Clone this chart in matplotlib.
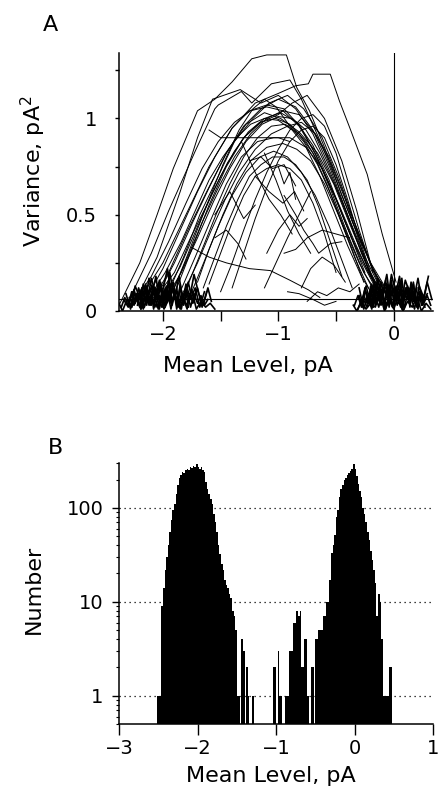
import numpy as np
import matplotlib
matplotlib.use("Agg")
import matplotlib.pyplot as plt

plt.rcParams['font.family'] = ['DejaVu Sans']

# ---- panel A: mean-variance trajectories (pA, pA^2) ----
high_x = [
    [-2.38, -2.2, -2.05, -1.91, -1.70, -1.55, -1.40, -1.23, -1.10, -0.93, -0.84, -0.73, -0.6, -0.45, -0.3, -0.15, -0.02],
    [-2.3, -2.1, -1.95, -1.72, -1.55, -1.52, -1.32, -1.23, -1.06, -0.9, -0.8, -0.65, -0.5, -0.35, -0.2, -0.05],
    [-2.2, -2.0, -1.8, -1.6, -1.4, -1.2, -1.0, -0.85, -0.74, -0.70, -0.55, -0.47, -0.38, -0.23, -0.1, 0.02],
    [-2.25, -2.05, -1.85, -1.7, -1.57, -1.33, -1.15, -1.0, -0.85, -0.7, -0.55, -0.4, -0.25, -0.1],
]
high_y = [
    [0.03, 0.25, 0.50, 0.74, 1.04, 1.10, 1.19, 1.31, 1.33, 1.33, 1.16, 1.04, 0.85, 0.6, 0.38, 0.18, 0.08],
    [0.05, 0.3, 0.52, 0.83, 1.05, 1.07, 1.14, 1.08, 1.18, 1.20, 1.10, 0.9, 0.68, 0.45, 0.25, 0.1],
    [0.06, 0.25, 0.5, 0.75, 0.95, 1.08, 1.13, 1.17, 1.18, 1.23, 1.23, 1.09, 0.95, 0.71, 0.4, 0.15],
    [0.04, 0.28, 0.62, 0.9, 1.10, 1.15, 1.08, 1.12, 1.05, 0.92, 0.72, 0.5, 0.28, 0.1],
]

bundle_x = [
    [-2.15, -2.0, -1.85, -1.7, -1.55, -1.4, -1.25, -1.1, -0.95, -0.8, -0.65, -0.5, -0.35, -0.2, -0.08],
    [-2.05, -1.9, -1.75, -1.6, -1.45, -1.3, -1.15, -1.0, -0.85, -0.7, -0.55, -0.4, -0.28, -0.15],
    [-1.95, -1.82, -1.68, -1.52, -1.38, -1.22, -1.08, -0.92, -0.78, -0.62, -0.48, -0.34, -0.2, -0.06],
    [-2.1, -1.95, -1.8, -1.62, -1.45, -1.28, -1.12, -0.98, -0.82, -0.66, -0.52, -0.38, -0.22, -0.1],
    [-1.88, -1.75, -1.6, -1.45, -1.3, -1.15, -1.0, -0.88, -0.75, -0.6, -0.45, -0.32, -0.18],
    [-2.0, -1.85, -1.72, -1.58, -1.44, -1.3, -1.16, -1.02, -0.9, -0.76, -0.62, -0.48, -0.34, -0.22, -0.1],
    [-1.85, -1.72, -1.58, -1.45, -1.32, -1.18, -1.04, -0.9, -0.76, -0.62, -0.5, -0.38, -0.25],
    [-1.78, -1.66, -1.54, -1.42, -1.3, -1.18, -1.06, -0.94, -0.82, -0.7, -0.58, -0.46, -0.34, -0.22],
    [-2.05, -1.9, -1.76, -1.62, -1.5, -1.38, -1.26, -1.12, -0.98, -0.84, -0.7, -0.56, -0.42, -0.28, -0.14],
    [-1.7, -1.6, -1.48, -1.36, -1.24, -1.1, -0.96, -0.84, -0.72, -0.6, -0.48, -0.36, -0.26],
    [-1.92, -1.8, -1.66, -1.52, -1.38, -1.24, -1.1, -0.96, -0.82, -0.68, -0.54, -0.42, -0.3, -0.18, -0.05],
    [-1.65, -1.55, -1.45, -1.35, -1.25, -1.15, -1.05, -0.95, -0.85, -0.75, -0.65, -0.55, -0.45],
    [-1.98, -1.84, -1.7, -1.56, -1.42, -1.28, -1.14, -1.0, -0.88, -0.76, -0.64, -0.5, -0.36, -0.22, -0.1],
    [-1.9, -1.78, -1.62, -1.48, -1.34, -1.22, -1.12, -1.02, -0.9, -0.78, -0.66, -0.54, -0.42, -0.3, -0.15],
    [-1.82, -1.7, -1.58, -1.46, -1.34, -1.2, -1.06, -0.92, -0.8, -0.68, -0.56, -0.44, -0.32, -0.2],
    [-1.6, -1.5, -1.4, -1.3, -1.2, -1.1, -1.0, -0.9, -0.8, -0.7, -0.6, -0.5],
    [-1.5, -1.4, -1.3, -1.2, -1.1, -1.0, -0.9, -0.8, -0.7, -0.6, -0.5, -0.4, -0.3, -0.2, -0.1],
    [-1.4, -1.3, -1.2, -1.1, -1.0, -0.9, -0.8, -0.7, -0.6, -0.5, -0.4, -0.3, -0.2, -0.08],
    [-2.25, -2.1, -1.95, -1.8, -1.66, -1.52, -1.38, -1.24, -1.1, -0.96, -0.82, -0.68, -0.54, -0.4, -0.26, -0.12],
    [-2.12, -1.98, -1.84, -1.72, -1.6, -1.48, -1.36, -1.24, -1.12, -1.0, -0.88, -0.76, -0.64, -0.52, -0.4, -0.28, -0.16],
    [-1.75, -1.64, -1.52, -1.4, -1.28, -1.16, -1.04, -0.92, -0.8, -0.68, -0.56, -0.46, -0.36],
]
bundle_y = [
    [0.06, 0.22, 0.42, 0.62, 0.80, 0.95, 1.04, 1.07, 1.05, 0.95, 0.78, 0.58, 0.36, 0.18, 0.06],
    [0.08, 0.25, 0.45, 0.64, 0.82, 0.96, 1.05, 1.10, 1.06, 0.94, 0.74, 0.50, 0.30, 0.12],
    [0.1, 0.28, 0.5, 0.7, 0.88, 1.0, 1.08, 1.12, 1.05, 0.90, 0.70, 0.46, 0.24, 0.08],
    [0.05, 0.2, 0.4, 0.62, 0.82, 0.97, 1.03, 1.0, 0.93, 0.82, 0.66, 0.45, 0.22, 0.08],
    [0.12, 0.32, 0.55, 0.75, 0.9, 0.98, 1.02, 1.08, 1.12, 1.0, 0.78, 0.52, 0.2],
    [0.07, 0.23, 0.41, 0.6, 0.77, 0.9, 0.98, 1.0, 0.97, 0.88, 0.74, 0.56, 0.36, 0.2, 0.07],
    [0.1, 0.28, 0.48, 0.66, 0.8, 0.88, 0.9, 0.9, 0.85, 0.74, 0.58, 0.4, 0.2],
    [0.14, 0.32, 0.5, 0.66, 0.8, 0.9, 0.96, 0.97, 0.92, 0.82, 0.66, 0.47, 0.28, 0.12],
    [0.08, 0.2, 0.38, 0.55, 0.7, 0.83, 0.93, 1.0, 1.03, 0.98, 0.86, 0.68, 0.46, 0.26, 0.1],
    [0.15, 0.32, 0.5, 0.66, 0.78, 0.85, 0.87, 0.84, 0.78, 0.66, 0.5, 0.32, 0.15],
    [0.1, 0.26, 0.46, 0.64, 0.8, 0.92, 1.0, 1.04, 1.02, 0.92, 0.76, 0.58, 0.4, 0.22, 0.08],
    [0.12, 0.28, 0.44, 0.58, 0.7, 0.76, 0.8, 0.8, 0.76, 0.68, 0.54, 0.36, 0.18],
    [0.06, 0.2, 0.38, 0.57, 0.74, 0.88, 0.97, 1.01, 1.0, 0.94, 0.82, 0.64, 0.43, 0.22, 0.06],
    [0.12, 0.3, 0.55, 0.76, 0.94, 1.05, 1.1, 1.06, 0.96, 0.88, 0.76, 0.6, 0.42, 0.25, 0.08],
    [0.1, 0.25, 0.42, 0.58, 0.72, 0.84, 0.92, 0.96, 0.98, 0.92, 0.8, 0.62, 0.4, 0.18],
    [0.14, 0.3, 0.46, 0.6, 0.7, 0.74, 0.76, 0.74, 0.68, 0.56, 0.4, 0.2],
    [0.1, 0.25, 0.42, 0.58, 0.72, 0.84, 0.94, 1.0, 1.02, 0.96, 0.82, 0.62, 0.42, 0.24, 0.1],
    [0.12, 0.3, 0.48, 0.64, 0.78, 0.88, 0.94, 0.96, 0.9, 0.76, 0.58, 0.38, 0.2, 0.06],
    [0.05, 0.18, 0.36, 0.56, 0.74, 0.88, 0.98, 1.04, 1.06, 1.04, 0.96, 0.82, 0.62, 0.4, 0.2, 0.07],
    [0.07, 0.2, 0.36, 0.52, 0.68, 0.8, 0.9, 0.97, 1.0, 0.99, 0.94, 0.85, 0.7, 0.52, 0.34, 0.18, 0.06],
    [0.1, 0.26, 0.44, 0.6, 0.72, 0.8, 0.83, 0.8, 0.72, 0.6, 0.44, 0.28, 0.12],
]

fragment_x = [
    [-1.75, -1.6, -1.45, -1.25, -1.07, -0.9, -0.74, -0.64],
    [-1.32, -1.2, -1.08, -0.98, -0.88],
    [-1.12, -1.02, -0.92, -0.82, -0.72],
    [-1.2, -1.08, -0.96, -0.86, -0.78],
    [-0.95, -0.85, -0.75, -0.62, -0.5, -0.38],
    [-0.8, -0.72, -0.62, -0.52, -0.42],
    [-0.92, -0.82, -0.7, -0.6, -0.5],
    [-0.75, -0.66, -0.58, -0.48, -0.38, -0.3],
    [-1.55, -1.45, -1.35, -1.28],
    [-1.0, -0.95, -0.9, -0.85],
    [-1.55, -1.42, -1.3, -1.2],
    [-1.6, -1.5, -1.4, -1.2, -1.0, -0.9],
    [-1.25, -1.15, -1.05, -0.95, -0.85],
    [-1.12, -1.02, -0.92, -0.82, -0.72],
    [-0.95, -0.85, -0.78, -0.7, -0.65, -0.55, -0.45],
    [-1.1, -1.0, -0.9, -0.82, -0.75],
]
fragment_y = [
    [0.33, 0.28, 0.25, 0.22, 0.21, 0.16, 0.11, 0.07],
    [0.88, 0.72, 0.58, 0.5, 0.40],
    [0.12, 0.25, 0.38, 0.50, 0.62],
    [0.7, 0.62, 0.56, 0.62, 0.52],
    [0.3, 0.32, 0.38, 0.42, 0.40, 0.38],
    [0.12, 0.22, 0.28, 0.24, 0.15],
    [0.1, 0.09, 0.06, 0.03, 0.05],
    [0.05, 0.1, 0.08, 0.12, 0.1, 0.14],
    [0.38, 0.42, 0.35, 0.27],
    [0.75, 0.66, 0.72, 0.58],
    [0.5, 0.62, 0.48, 0.55],
    [0.94, 0.9, 0.9, 0.9, 0.9, 0.88],
    [0.78, 0.8, 0.74, 0.76, 0.65],
    [0.82, 0.68, 0.52, 0.4, 0.3],
    [0.6, 0.5, 0.42, 0.35, 0.3, 0.35, 0.36],
    [0.3, 0.42, 0.5, 0.44, 0.48],
]

# noisy traces at the closed (about -2 pA) and open (0 pA) levels
closed_noise_x = [
    [-2.36, -2.33, -2.30, -2.27, -2.24, -2.21, -2.18, -2.15, -2.12, -2.09, -2.06, -2.03, -2.00, -1.97, -1.94,
     -1.91, -1.88, -1.85, -1.82, -1.79, -1.76, -1.73, -1.70, -1.67, -1.64, -1.61],
    [-1.62, -1.66, -1.70, -1.74, -1.78, -1.82, -1.86, -1.90, -1.94, -1.98, -2.02, -2.06, -2.10, -2.14, -2.18,
     -2.22, -2.26, -2.30, -2.34],
    [-2.32, -2.28, -2.24, -2.20, -2.16, -2.12, -2.08, -2.04, -2.00, -1.96, -1.92, -1.88, -1.84, -1.80, -1.76,
     -1.72, -1.68, -1.64],
    [-2.38, -2.35, -2.31, -2.27, -2.23, -2.19, -2.15, -2.11, -2.07, -2.03, -1.99, -1.95, -1.91, -1.87, -1.83,
     -1.79, -1.75, -1.71, -1.67, -1.63, -1.59, -1.55],
    [-1.58, -1.61, -1.65, -1.69, -1.73, -1.77, -1.81, -1.85, -1.89, -1.93, -1.97, -2.01, -2.05, -2.09, -2.13,
     -2.17, -2.21, -2.25, -2.29],
    [-2.22, -2.20, -2.18, -2.16, -2.14, -2.12, -2.10, -2.08, -2.06, -2.04, -2.02, -2.00, -1.98, -1.96, -1.94,
     -1.92, -1.90, -1.88, -1.86, -1.84, -1.82, -1.80],
    [-1.78, -1.80, -1.83, -1.85, -1.88, -1.90, -1.93, -1.95, -1.98, -2.00, -2.03, -2.05, -2.08, -2.10, -2.13,
     -2.15, -2.18, -2.20, -2.23, -2.25],
    [-2.30, -2.27, -2.25, -2.22, -2.19, -2.17, -2.14, -2.11, -2.09, -2.06, -2.03, -2.01, -1.98, -1.95, -1.93,
     -1.90, -1.87, -1.85, -1.82, -1.79, -1.77, -1.74, -1.71],
]
closed_noise_y = [
    [0.02, 0.07, 0.03, 0.10, 0.04, 0.12, 0.05, 0.14, 0.03, 0.11, 0.06, 0.16, 0.04, 0.13, 0.07,
     0.15, 0.03, 0.12, 0.05, 0.10, 0.02, 0.09, 0.04, 0.08, 0.03, 0.06],
    [0.10, 0.02, 0.12, 0.04, 0.15, 0.03, 0.18, 0.06, 0.20, 0.02, 0.14, 0.08, 0.17, 0.03, 0.12,
     0.05, 0.10, 0.02, 0.06],
    [0.09, 0.01, 0.13, 0.07, 0.02, 0.17, 0.09, 0.01, 0.11, 0.22, 0.05, 0.10, 0.01, 0.14, 0.06,
     0.12, 0.02, 0.10],
    [0.04, 0.00, 0.06, 0.02, 0.09, 0.01, 0.07, 0.12, 0.02, 0.08, 0.01, 0.06, 0.11, 0.02, 0.07,
     0.03, 0.11, 0.01, 0.05, 0.02, 0.04, 0.01],
    [0.05, 0.12, 0.03, 0.09, 0.19, 0.06, 0.11, 0.01, 0.08, 0.14, 0.04, 0.09, 0.02, 0.13, 0.07,
     0.01, 0.08, 0.03, 0.07],
    [0.03, 0.10, 0.02, 0.08, 0.13, 0.04, 0.09, 0.01, 0.12, 0.06, 0.15, 0.02, 0.10, 0.05, 0.13,
     0.03, 0.08, 0.12, 0.02, 0.09, 0.04, 0.07],
    [0.02, 0.11, 0.05, 0.14, 0.01, 0.09, 0.04, 0.16, 0.06, 0.11, 0.01, 0.07, 0.13, 0.03, 0.10,
     0.05, 0.12, 0.02, 0.08, 0.04],
    [0.06, 0.02, 0.11, 0.05, 0.01, 0.14, 0.07, 0.03, 0.10, 0.18, 0.05, 0.02, 0.12, 0.07, 0.01,
     0.10, 0.04, 0.13, 0.06, 0.01, 0.09, 0.05, 0.11],
]
open_noise_x = [
    [-0.34, -0.31, -0.28, -0.25, -0.22, -0.19, -0.16, -0.13, -0.10, -0.07, -0.04, -0.01, 0.02, 0.05, 0.08,
     0.11, 0.14, 0.17, 0.20, 0.23, 0.26, 0.29, 0.32],
    [0.33, 0.29, 0.25, 0.21, 0.17, 0.13, 0.09, 0.05, 0.01, -0.03, -0.07, -0.11, -0.15, -0.19, -0.23,
     -0.27, -0.31],
    [-0.30, -0.26, -0.22, -0.18, -0.14, -0.10, -0.06, -0.02, 0.02, 0.06, 0.10, 0.14, 0.18, 0.22, 0.26, 0.30],
    [0.32, 0.28, 0.24, 0.20, 0.16, 0.12, 0.08, 0.04, 0.00, -0.04, -0.08, -0.12, -0.16, -0.20, -0.24,
     -0.28, -0.32, -0.35],
    [-0.27, -0.24, -0.2, -0.17, -0.13, -0.09, -0.05, -0.02, 0.03, 0.07, 0.12, 0.15, 0.19, 0.23, 0.27],
    [-0.22, -0.20, -0.18, -0.16, -0.14, -0.12, -0.10, -0.08, -0.06, -0.04, -0.02, 0.00, 0.02, 0.04, 0.06,
     0.08, 0.10, 0.12, 0.14, 0.16, 0.18, 0.20],
    [0.24, 0.22, 0.19, 0.17, 0.14, 0.12, 0.09, 0.07, 0.04, 0.02, -0.01, -0.03, -0.06, -0.08, -0.11,
     -0.13, -0.16, -0.18, -0.21, -0.23, -0.26],
    [-0.30, -0.27, -0.25, -0.22, -0.19, -0.17, -0.14, -0.11, -0.09, -0.06, -0.03, -0.01, 0.02, 0.05, 0.07,
     0.10, 0.13, 0.15, 0.18, 0.21, 0.23, 0.26, 0.29],
]
open_noise_y = [
    [0.03, 0.08, 0.02, 0.11, 0.04, 0.14, 0.03, 0.12, 0.06, 0.16, 0.02, 0.13, 0.05, 0.15, 0.03,
     0.12, 0.06, 0.14, 0.02, 0.10, 0.04, 0.08, 0.03],
    [0.06, 0.15, 0.03, 0.17, 0.05, 0.12, 0.01, 0.18, 0.07, 0.10, 0.01, 0.15, 0.05, 0.11, 0.02,
     0.07, 0.01],
    [0.12, 0.01, 0.09, 0.02, 0.17, 0.08, 0.03, 0.19, 0.09, 0.02, 0.16, 0.09, 0.01, 0.13, 0.07, 0.18],
    [0.01, 0.04, 0.00, 0.07, 0.02, 0.05, 0.00, 0.08, 0.01, 0.06, 0.00, 0.09, 0.02, 0.04, 0.01,
     0.05, 0.00, 0.03],
    [0.07, 0.13, 0.04, 0.1, 0.02, 0.12, 0.05, 0.14, 0.03, 0.11, 0.06, 0.13, 0.04, 0.09, 0.02],
    [0.05, 0.13, 0.02, 0.10, 0.15, 0.04, 0.11, 0.01, 0.14, 0.07, 0.16, 0.03, 0.12, 0.06, 0.14,
     0.02, 0.10, 0.13, 0.03, 0.09, 0.05, 0.12],
    [0.03, 0.10, 0.05, 0.15, 0.02, 0.11, 0.06, 0.17, 0.04, 0.12, 0.02, 0.09, 0.14, 0.03, 0.11,
     0.06, 0.13, 0.02, 0.09, 0.04, 0.08],
    [0.08, 0.02, 0.12, 0.06, 0.01, 0.15, 0.07, 0.03, 0.11, 0.19, 0.05, 0.02, 0.13, 0.08, 0.01,
     0.12, 0.05, 0.15, 0.07, 0.01, 0.10, 0.05, 0.09],
]

threshold_var = 0.062
open_level = 0.0

# ---- panel B: histogram of mean levels, 0.02 pA bins starting at -2.52 ----
bin_start = -2.52
bin_width = 0.02
counts = [1, 1, 1, 9, 14, 22, 30, 40, 55, 75, 95, 110, 140, 175, 210, 225, 240, 235, 255, 260,
          250, 270, 265, 280, 275, 290, 270, 260, 275, 250, 240, 190, 160, 140, 125, 110, 85, 70, 55, 40,
          32, 25, 22, 17, 15, 14, 12, 11, 8, 7, 5, 1, 1, 0, 4, 3, 0, 2, 1, 0,
          0, 1, 0, 0, 0, 0, 0, 0, 0, 0, 0, 0, 0, 0, 2, 2, 0, 3, 1, 1,
          0, 0, 1, 1, 3, 3, 3, 6, 6, 8, 7, 8, 2, 2, 4, 4, 1, 0, 2, 2,
          0, 4, 4, 5, 5, 5, 7, 7, 10, 10, 17, 33, 40, 51, 80, 95, 130, 160, 175, 200,
          210, 225, 235, 245, 260, 290, 260, 220, 180, 150, 130, 100, 85, 70, 55, 45, 35, 28, 22, 16,
          7, 12, 10, 4, 1, 1, 1, 1, 2, 2]

W, H = 438, 798
fig = plt.figure(figsize=(W / 100, H / 100), dpi=100)

lw = 0.7
axA = fig.add_axes([119 / W, 1 - 311 / H, 314 / W, 258 / H])
for xs, ys in zip(high_x + bundle_x + fragment_x, high_y + bundle_y + fragment_y):
    axA.plot(xs, ys, color='black', lw=lw)
for xs, ys in zip(closed_noise_x + open_noise_x, closed_noise_y + open_noise_y):
    axA.plot(xs, ys, color='black', lw=1.2)
axA.axhline(threshold_var, color='black', lw=0.8)
axA.axvline(open_level, color='black', lw=0.8)

axA.set_xlim(-2.38, 0.34)
axA.set_ylim(0, 1.34)
axA.set_xticks([-2, -1, 0])
axA.set_xticks([-1.5, -0.5], minor=True)
axA.set_yticks([0, 0.5, 1])
axA.set_yticklabels(['0', '0.5', '1'])
axA.set_yticks([0.25, 0.75, 1.25], minor=True)
axA.tick_params(axis='x', which='both', direction='out', length=7, width=1, pad=3, labelsize=14)
axA.tick_params(axis='y', which='both', direction='out', length=3, width=1, pad=13, labelsize=14)
for s in ['top', 'right']:
    axA.spines[s].set_visible(False)

axB = fig.add_axes([119 / W, 1 - 724 / H, 314 / W, 261 / H])
left_edges = bin_start + bin_width * np.arange(len(counts))
counts = np.array(counts)
nz = counts > 0
axB.bar(left_edges[nz], counts[nz], width=bin_width, align='edge', color='black', linewidth=0)
axB.set_yscale('log')
axB.set_xlim(-3, 1)
axB.set_ylim(0.5, 300)
axB.set_xticks([-3, -2, -1, 0, 1])
axB.set_yticks([1, 10, 100])
axB.set_yticklabels(['1', '10', '100'])
axB.yaxis.grid(True, which='major', linestyle=(0, (1, 3)), color='black', lw=0.9)
axB.set_axisbelow(True)
axB.tick_params(axis='x', which='both', direction='out', length=8, width=1, pad=3, labelsize=14)
axB.tick_params(axis='y', which='major', direction='out', length=5, width=1, pad=6, labelsize=14)
axB.tick_params(axis='y', which='minor', direction='out', length=2.5, width=0.8)
for s in ['top', 'right']:
    axB.spines[s].set_visible(False)

for ax in (axA, axB):
    for s in ['left', 'bottom']:
        ax.spines[s].set_linewidth(1.1)

fs = 16
fig.text(50 / W, 1 - 25 / H, 'A', ha='center', va='center', fontsize=fs)
fig.text(55 / W, 1 - 448 / H, 'B', ha='center', va='center', fontsize=fs)
fig.text(248 / W, 1 - 366 / H, 'Mean Level, pA', ha='center', va='center', fontsize=fs)
fig.text(271 / W, 1 - 776 / H, 'Mean Level, pA', ha='center', va='center', fontsize=fs)
fig.text(33 / W, 1 - 171 / H, 'Variance, pA$^2$', ha='center', va='center', rotation=90, fontsize=fs)
fig.text(34 / W, 1 - 589 / H, 'Number', ha='center', va='center', rotation=90, fontsize=fs)

fig.savefig('out.png', dpi=100)
